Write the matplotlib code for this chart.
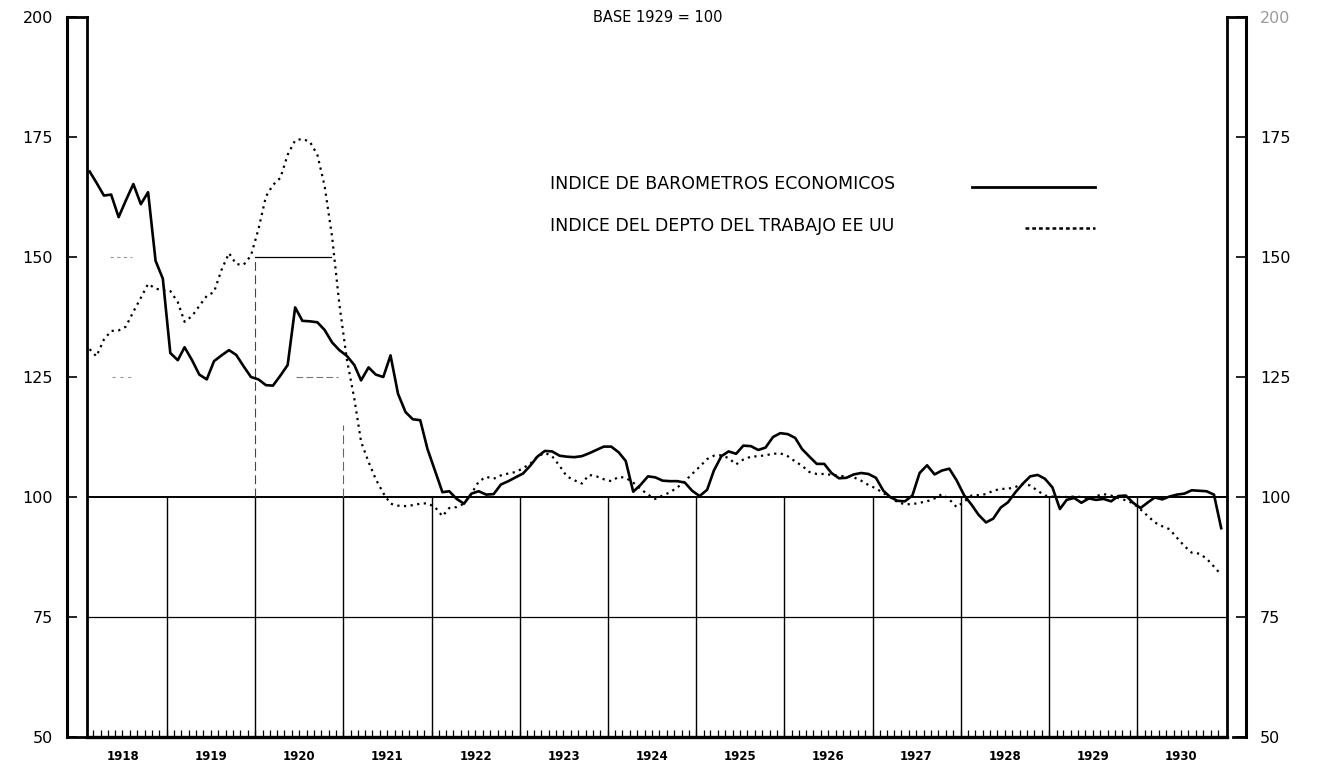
import matplotlib
matplotlib.use("Agg")
import matplotlib.pyplot as plt
from matplotlib.lines import Line2D
import pandas as pd

# ---------------- data ----------------
years = list(range(1918, 1931))
month_dates = pd.date_range("1918-02-01", "1930-12-01", freq="MS") + pd.Timedelta(days=14)

barometros = [
    167.8, 165.5, 162.8, 163.0, 158.3, 161.8, 165.2, 161.0, 163.5, 149.2, 145.5,          # 1918 (feb-dic)
    130.0, 128.5, 131.2, 128.5, 125.5, 124.5, 128.3, 129.5, 130.6, 129.6, 127.2, 125.0,   # 1919
    124.5, 123.3, 123.2, 125.3, 127.5, 139.5, 136.7, 136.6, 136.4, 134.8, 132.2, 130.6,   # 1920
    129.4, 127.5, 124.3, 127.0, 125.5, 125.0, 129.5, 121.5, 117.7, 116.2, 116.0, 110.0,   # 1921
    105.5, 101.0, 101.2, 99.6, 98.6, 100.7, 101.2, 100.5, 100.6, 102.6, 103.3, 104.1,     # 1922
    104.9, 106.6, 108.4, 109.6, 109.5, 108.6, 108.4, 108.3, 108.5, 109.1, 109.8, 110.5,   # 1923
    110.5, 109.3, 107.5, 101.1, 102.5, 104.3, 104.1, 103.4, 103.3, 103.3, 103.0, 101.3,   # 1924
    100.2, 101.5, 105.5, 108.5, 109.5, 109.0, 110.7, 110.6, 109.8, 110.3, 112.5, 113.3,   # 1925
    113.1, 112.3, 110.0, 108.4, 106.9, 106.9, 105.0, 103.9, 104.0, 104.7, 105.0, 104.8,   # 1926
    104.0, 101.3, 100.0, 99.2, 99.1, 100.3, 105.0, 106.6, 104.7, 105.5, 105.9, 103.5,     # 1927
    100.4, 98.4, 96.3, 94.7, 95.5, 97.8, 98.9, 101.0, 102.8, 104.3, 104.6, 103.8,         # 1928
    102.0, 97.5, 99.4, 99.8, 98.8, 99.7, 99.4, 99.6, 99.1, 100.2, 100.3, 98.8,            # 1929
    97.7, 98.9, 99.9, 99.5, 100.1, 100.5, 100.7, 101.4, 101.3, 101.2, 100.5, 93.5,        # 1930
]

trabajo = [
    130.8, 129.3, 132.8, 134.6, 134.7, 135.5, 138.6, 141.5, 144.4, 143.4, 143.1,          # 1918 (feb-dic)
    142.9, 140.6, 136.5, 137.7, 139.8, 141.9, 142.7, 147.3, 150.8, 148.5, 148.4, 150.3,   # 1919
    155.8, 162.6, 165.0, 166.5, 171.3, 174.3, 174.6, 174.0, 171.3, 164.8, 154.2, 140.2,   # 1920
    128.7, 120.5, 111.5, 107.3, 103.7, 100.8, 98.6, 98.2, 98.1, 98.3, 98.6, 98.7,         # 1921
    97.9, 96.0, 97.7, 97.9, 98.6, 100.7, 103.2, 104.2, 103.8, 104.5, 104.9, 105.2,        # 1922
    106.0, 107.0, 108.4, 109.2, 108.5, 106.5, 104.3, 103.5, 102.8, 104.6, 104.3, 103.7,   # 1923
    103.3, 104.2, 104.0, 103.0, 101.7, 100.5, 99.6, 100.3, 101.0, 102.0, 103.3, 104.8,    # 1924
    106.3, 107.9, 108.6, 108.7, 108.1, 106.8, 107.8, 108.4, 108.5, 108.7, 109.0, 109.1,   # 1925
    108.5, 107.4, 106.5, 105.2, 104.8, 104.8, 104.6, 104.4, 104.3, 104.1, 103.4, 102.5,   # 1926
    101.8, 100.8, 100.0, 98.9, 98.5, 98.5, 98.8, 99.1, 99.7, 100.6, 99.5, 97.9,           # 1927
    99.0, 100.3, 100.4, 100.6, 101.3, 101.7, 101.7, 102.1, 102.7, 102.4, 101.3, 100.3,    # 1928
    100.1, 100.0, 100.0, 100.1, 100.0, 99.7, 100.2, 100.6, 100.3, 99.8, 99.3, 98.7,       # 1929
    97.4, 96.0, 94.7, 93.9, 93.3, 91.5, 89.8, 88.4, 88.2, 87.2, 85.5, 83.8,               # 1930
]

y_ticks = [50, 75, 100, 125, 150, 175, 200]
y_labels = ["50", "75", "100", "125", "150", "175", "200"]
title_text = "BASE 1929 = 100"
label_barometros = "INDICE DE BAROMETROS ECONOMICOS"
label_trabajo = "INDICE DEL DEPTO DEL TRABAJO EE UU"

# ---------------- layout ----------------
W, H = 1326, 781
fig = plt.figure(figsize=(W / 100, H / 100), dpi=100)
fig.patch.set_facecolor("white")

def fx(p):
    return p / W

def fy(p):
    return 1 - p / H

INNER_L, INNER_R, OUTER_L, OUTER_R = 87, 1227, 67, 1246
TOP, BOT = 17, 737
FONT = "DejaVu Sans"

# outer frame with value scales
ax_out = fig.add_axes([fx(OUTER_L), fy(BOT), fx(OUTER_R) - fx(OUTER_L), fy(TOP) - fy(BOT)])
ax_out.set_ylim(50, 200)
ax_out.set_xlim(0, 1)
ax_out.patch.set_visible(False)
for s in ("top", "bottom"):
    ax_out.spines[s].set_visible(False)
for s in ("left", "right"):
    ax_out.spines[s].set_linewidth(2.2)
ax_out.set_xticks([])
ax_out.set_yticks(y_ticks)
ax_out.set_yticklabels(y_labels, fontfamily=FONT)
ax_out.tick_params(axis="y", direction="in", length=7, width=1.2,
                   left=True, right=True, labelleft=True, labelright=True,
                   pad=10, labelsize=11.5)
ax_out.yaxis.get_major_ticks()[-1].label2.set_color("#9a9a9a")

# inner plotting area
ax = fig.add_axes([fx(INNER_L), fy(BOT), fx(INNER_R) - fx(INNER_L), fy(TOP) - fy(BOT)])
ax.patch.set_visible(False)
ax.set_ylim(50, 200)
ax.set_xlim(pd.Timestamp("1918-02-04"), pd.Timestamp("1931-01-08"))
ax.spines["top"].set_visible(False)
ax.spines["left"].set_linewidth(2.0)
ax.spines["right"].set_linewidth(2.0)
ax.spines["bottom"].set_linewidth(2.4)
ax.set_yticks([])

mid_year = [pd.Timestamp(f"{y}-07-02") for y in years]
ax.set_xticks(mid_year)
ax.set_xticklabels([str(y) for y in years], fontfamily=FONT, fontsize=8.5, fontweight="bold")
ax.tick_params(axis="x", which="major", length=0, pad=9)
month_ticks = pd.date_range("1918-03-01", "1930-12-01", freq="MS")
ax.set_xticks(month_ticks, minor=True)
ax.tick_params(axis="x", which="minor", direction="in", length=5, width=0.9)

# reference lines
year_starts = [pd.Timestamp(f"{y}-01-01") for y in years[1:]]
for d in year_starts:
    ax.plot([d, d], [50, 100], color="black", lw=1.0, zorder=1)
ax.axhline(100, color="black", lw=1.4, zorder=1)
ax.axhline(75, color="black", lw=0.9, zorder=1)
ax.plot([pd.Timestamp("1920-01-01"), pd.Timestamp("1920-11-10")], [150, 150], color="black", lw=0.9, zorder=1)
ax.plot([pd.Timestamp("1920-01-01"), pd.Timestamp("1920-01-01")], [100, 150], color="#444444",
        lw=0.8, ls=(0, (8, 4)), zorder=1)
ax.plot([pd.Timestamp("1921-01-01"), pd.Timestamp("1921-01-01")], [100, 115], color="#666666",
        lw=0.8, ls=(0, (8, 4)), zorder=1)
ax.plot([pd.Timestamp("1920-06-20"), pd.Timestamp("1920-12-10")], [125, 125], color="#777777",
        lw=0.8, ls=(0, (6, 3)), zorder=1)
ax.plot([pd.Timestamp("1918-05-10"), pd.Timestamp("1918-08-10")], [150, 150], color="#999999",
        lw=0.8, ls=(0, (3, 3)), zorder=1)
ax.plot([pd.Timestamp("1918-05-20"), pd.Timestamp("1918-08-10")], [125, 125], color="#999999",
        lw=0.8, ls=(0, (3, 4)), zorder=1)

# series
ax.plot(month_dates, trabajo, color="black", lw=1.6, ls=(0, (1, 2.0)), zorder=3)
ax.plot(month_dates, barometros, color="black", lw=1.9, solid_joinstyle="round", zorder=4)

# frame caps joining inner and outer lines
for (x0, x1, y) in [(OUTER_L, INNER_L, TOP), (OUTER_L, INNER_L, BOT), (INNER_R + 6, OUTER_R, BOT), (INNER_R, OUTER_R, TOP)]:
    fig.add_artist(Line2D([fx(x0), fx(x1)], [fy(y), fy(y)], color="black", lw=2.0,
                          transform=fig.transFigure))

# title
fig.text(fx(658), fy(17), title_text, ha="center", va="center", fontsize=10.5, fontfamily=FONT)

# legend
fig.text(fx(550), fy(184), label_barometros, ha="left", va="center", fontsize=12.5, fontfamily=FONT)
fig.add_artist(Line2D([fx(972), fx(1095)], [fy(187), fy(187)], color="black", lw=2.0,
                      transform=fig.transFigure))
fig.text(fx(550), fy(226), label_trabajo, ha="left", va="center", fontsize=12.5, fontfamily=FONT)
fig.add_artist(Line2D([fx(1025), fx(1095)], [fy(228), fy(228)], color="black", lw=1.8,
                      ls=(0, (1.5, 1.2)), transform=fig.transFigure))

fig.savefig("out.png", dpi=100, facecolor="white")
